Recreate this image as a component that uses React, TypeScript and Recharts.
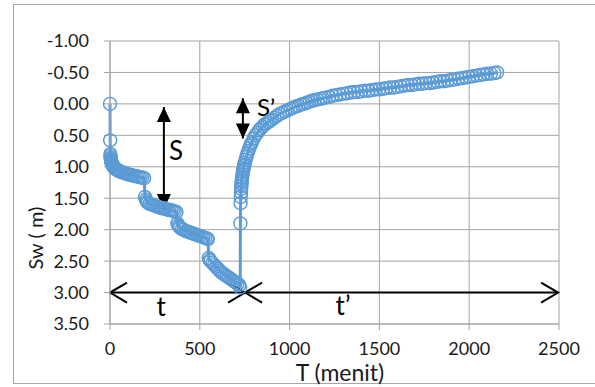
import {
  ComposedChart,
  Line,
  XAxis,
  YAxis,
  CartesianGrid,
  ReferenceLine,
} from "recharts";

// pumping phase: time (menit) and drawdown Sw (m)
const pumpTime = [
  0, 1, 2, 3, 4, 5, 6, 7, 8, 9, 10, 12, 14, 16, 18, 20, 25, 30, 35, 40, 45, 50,
  55, 60, 70, 80, 90, 100, 110, 120, 130, 140, 150, 160, 170, 180, 190,
  195, 200, 205, 210, 220, 230, 240, 250, 260, 270, 280, 290, 300, 310, 320,
  330, 340, 350, 360, 370,
  375, 380, 385, 390, 400, 410, 420, 430, 440, 450, 460, 470, 480, 490, 500,
  510, 520, 530, 540, 545,
  550, 555, 560, 570, 580, 590, 600, 610, 620, 630, 640, 650, 660, 670, 680,
  690, 700, 710, 720, 725,
];
const pumpSw = [
  0.0, 0.58, 0.8, 0.83, 0.86, 0.88, 0.9, 0.91, 0.92, 0.93, 0.94, 0.96, 0.97,
  0.98, 0.99, 1.0, 1.02, 1.03, 1.04, 1.05, 1.06, 1.07, 1.07, 1.08, 1.09, 1.1,
  1.11, 1.12, 1.13, 1.13, 1.14, 1.15, 1.15, 1.16, 1.17, 1.17, 1.18,
  1.48, 1.52, 1.55, 1.57, 1.59, 1.6, 1.61, 1.62, 1.63, 1.64, 1.65, 1.66, 1.66,
  1.67, 1.68, 1.69, 1.69, 1.7, 1.71, 1.72,
  1.9, 1.93, 1.95, 1.97, 1.99, 2.0, 2.02, 2.03, 2.04, 2.05, 2.06, 2.07, 2.08,
  2.09, 2.1, 2.11, 2.12, 2.13, 2.14, 2.15,
  2.45, 2.48, 2.5, 2.53, 2.56, 2.59, 2.62, 2.65, 2.68, 2.7, 2.72, 2.74, 2.76,
  2.78, 2.8, 2.82, 2.84, 2.86, 2.88, 2.92,
];

// recovery phase after the pump stops
const recoveryTime = [
  726, 727, 728, 729, 730, 731, 732, 733, 734, 735, 736, 738, 740, 742, 744,
  746, 748, 750, 755, 760, 765, 770, 775, 780, 785, 790, 800, 810, 820, 830,
  840, 850, 860, 870, 880, 890, 900, 915, 930, 945, 960, 975, 990, 1005, 1020,
  1035, 1050, 1065, 1080, 1095, 1110, 1125, 1140, 1155, 1170, 1185, 1200, 1220,
  1240, 1260, 1280, 1300, 1320, 1340, 1360, 1380, 1400, 1420, 1440, 1460, 1480,
  1500, 1520, 1540, 1560, 1580, 1600, 1620, 1640, 1660, 1680, 1700, 1720, 1740,
  1760, 1780, 1800, 1820, 1840, 1860, 1880, 1900, 1920, 1940, 1960, 1980, 2000,
  2020, 2040, 2060, 2080, 2100, 2120, 2140, 2155,
];
const recoverySw = [
  1.9, 1.58, 1.48, 1.41, 1.35, 1.31, 1.27, 1.24, 1.21, 1.18, 1.16, 1.12, 1.08,
  1.05, 1.02, 0.99, 0.97, 0.94, 0.89, 0.84, 0.79, 0.75, 0.71, 0.67, 0.64, 0.61,
  0.55, 0.5, 0.46, 0.42, 0.39, 0.36, 0.33, 0.31, 0.29, 0.27, 0.25, 0.22, 0.19,
  0.16, 0.14, 0.12, 0.1, 0.08, 0.06, 0.04, 0.03, 0.01, 0.0, -0.02, -0.03,
  -0.05, -0.06, -0.07, -0.08, -0.09, -0.1, -0.11, -0.13, -0.14, -0.15, -0.16,
  -0.17, -0.18, -0.19, -0.19, -0.2, -0.21, -0.21, -0.22, -0.23, -0.23, -0.24,
  -0.25, -0.26, -0.26, -0.27, -0.28, -0.29, -0.3, -0.3, -0.31, -0.32, -0.32,
  -0.33, -0.33, -0.34, -0.35, -0.36, -0.36, -0.37, -0.38, -0.39, -0.4, -0.41,
  -0.42, -0.43, -0.44, -0.45, -0.46, -0.47, -0.48, -0.48, -0.49, -0.5,
];

const xTicks = [0, 500, 1000, 1500, 2000, 2500];
const yTicks = [-1, -0.5, 0, 0.5, 1, 1.5, 2, 2.5, 3, 3.5];

const data = [
  ...pumpTime.map((t, i) => ({ t, sw: pumpSw[i] })),
  ...recoveryTime.map((t, i) => ({ t, sw: recoverySw[i] })),
];

const BLUE = "#5B9BD5";
const GRID = "#a3a3a3";
const FONT = "Lato, 'Open Sans', sans-serif";

// double-headed arrow drawn between the two segment ends of a ReferenceLine
const arrow =
  (solid: boolean, text: string, dx: number, dy: number, size: number) =>
  (p: any) => {
    const { x1, y1, x2, y2 } = p;
    const len = Math.hypot(x2 - x1, y2 - y1) || 1;
    const ux = (x2 - x1) / len;
    const uy = (y2 - y1) / len;
    const L = solid ? 15 : 17;
    const W = solid ? 7 : 10;
    const head = (tx: number, ty: number, dir: number) => {
      const bx = tx - dir * L * ux;
      const by = ty - dir * L * uy;
      const a = `${bx - W * uy},${by + W * ux}`;
      const b = `${bx + W * uy},${by - W * ux}`;
      return solid ? (
        <polygon points={`${tx},${ty} ${a} ${b}`} fill="#000" />
      ) : (
        <polyline
          points={`${a} ${tx},${ty} ${b}`}
          fill="none"
          stroke="#000"
          strokeWidth={2}
        />
      );
    };
    return (
      <g>
        <line x1={x1} y1={y1} x2={x2} y2={y2} stroke="#000" strokeWidth={2} />
        {head(x1, y1, -1)}
        {head(x2, y2, 1)}
        <text
          x={(x1 + x2) / 2 + dx}
          y={(y1 + y2) / 2 + dy}
          fontSize={size}
          fontFamily={FONT}
          fill="#000"
        >
          {text}
        </text>
      </g>
    );
  };

export default function App() {
  return (
    <div
      style={{
        position: "absolute",
        left: 0,
        top: 0,
        width: 595,
        height: 387,
        background: "#fff",
      }}
    >
      <div
        style={{
          position: "absolute",
          left: 13,
          top: 4,
          width: 600,
          height: 380,
          border: "1px solid #a6a6a6",
          boxSizing: "border-box",
        }}
      />
      <ComposedChart
        width={595}
        height={387}
        data={data}
        margin={{ top: 41, right: 36, left: 0, bottom: 0 }}
        style={{ position: "absolute", left: 0, top: 0 }}
      >
        <CartesianGrid stroke={GRID} strokeWidth={1} />
        <XAxis
          dataKey="t"
          type="number"
          domain={[0, 2500]}
          ticks={xTicks}
          height={63}
          tickSize={6}
          tickMargin={12}
          tick={{ fill: "#1a1a1a", fontSize: 18, fontFamily: FONT }}
          tickLine={{ stroke: GRID }}
          axisLine={{ stroke: GRID }}
          label={{
            content: () => (
              <text
                x={340}
                y={381}
                textAnchor="middle"
                fontSize={23}
                fontFamily={FONT}
                fill="#1a1a1a"
              >
                T (menit)
              </text>
            ),
          }}
        />
        <YAxis
          type="number"
          reversed
          domain={[-1, 3.5]}
          ticks={yTicks}
          width={110}
          tickSize={6}
          tickMargin={15}
          tickFormatter={(v: number) => v.toFixed(2)}
          tick={{ fill: "#1a1a1a", fontSize: 18, fontFamily: FONT }}
          tickLine={{ stroke: GRID }}
          axisLine={{ stroke: GRID }}
          label={{
            content: () => (
              <text
                x={0}
                y={0}
                transform="translate(43 238) rotate(-90)"
                textAnchor="middle"
                fontSize={20}
                fontFamily={FONT}
                fill="#1a1a1a"
              >
                Sw ( m)
              </text>
            ),
          }}
        />
        <Line
          type="linear"
          dataKey="sw"
          stroke={BLUE}
          strokeWidth={3}
          dot={{ r: 6.5, fill: "none", stroke: BLUE, strokeWidth: 1.4 }}
          isAnimationActive={false}
        />
        <ReferenceLine
          segment={[
            { x: 300, y: 0.05 },
            { x: 300, y: 1.67 },
          ]}
          shape={arrow(true, "S", 5, 2, 26)}
        />
        <ReferenceLine
          segment={[
            { x: 740, y: -0.09 },
            { x: 740, y: 0.55 },
          ]}
          shape={arrow(true, "S\u2019", 14, -2, 24)}
        />
        <ReferenceLine
          segment={[
            { x: 0, y: 3 },
            { x: 752, y: 3 },
          ]}
          shape={arrow(false, "t", -21, 23, 26)}
        />
        <ReferenceLine
          segment={[
            { x: 752, y: 3 },
            { x: 2495, y: 3 },
          ]}
          shape={arrow(false, "t\u2019", -66, 22, 26)}
        />
      </ComposedChart>
    </div>
  );
}
